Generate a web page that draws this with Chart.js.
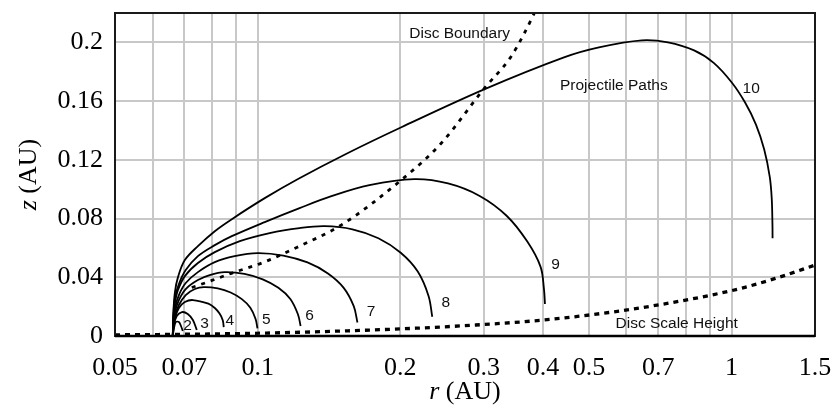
<!DOCTYPE html>
<html><head><meta charset="utf-8">
<script src="https://cdn.jsdelivr.net/npm/chart.js@4.4.0/dist/chart.umd.min.js"></script>
<style>html,body{margin:0;padding:0;background:#fff}</style>
</head><body>
<canvas id="c" width="834" height="415"></canvas>
<script>
// ---- axis ticks ----
const xGridValues = [0.05,0.06,0.07,0.08,0.09,0.1,0.2,0.3,0.4,0.5,0.6,0.7,0.8,0.9,1,1.5];
const xTickLabels = ['0.05','0.07','0.1','0.2','0.3','0.4','0.5','0.7','1','1.5'];
const yGridValues = [0,0.02,0.04,0.06,0.08,0.1,0.12,0.14,0.16,0.18,0.2,0.22];
const yTickLabels = ['0','0.04','0.08','0.12','0.16','0.2'];

// ---- projectile paths (r in AU, z in AU) ----
const path2R = [0.0662,0.0666,0.0672,0.0682,0.0689,0.0695];
const path2Z = [0,0.0054,0.0095,0.0095,0.0068,0.0034];
const path3R = [0.0662,0.0666,0.0675,0.0692,0.0712,0.0730,0.0744];
const path3Z = [0,0.0075,0.0136,0.0163,0.0150,0.0109,0.0041];
const path4R = [0.0662,0.0664,0.0669,0.0682,0.0702,0.0730,0.0787,0.0812,0.0831,0.0844,0.0848];
const path4Z = [0,0.0061,0.0122,0.0190,0.0231,0.0245,0.0220,0.0191,0.0153,0.0108,0.0061];
const path5R = [0.0662,0.0664,0.0669,0.0682,0.0705,0.0737,0.0770,0.0824,0.0877,0.0926,0.0965,0.0990,0.0999];
const path5Z = [0,0.0075,0.0136,0.0211,0.0279,0.0320,0.0333,0.0324,0.0296,0.0251,0.0193,0.0116,0.0052];
const path6R = [0.0662,0.0664,0.0669,0.0682,0.0705,0.0748,0.0792,0.0852,0.0938,0.1025,0.1106,0.1172,0.1216,0.1232];
const path6Z = [0,0.0095,0.0163,0.0245,0.0320,0.0381,0.0415,0.0435,0.0423,0.0386,0.0328,0.0252,0.0148,0.0068];
const path7R = [0.0662,0.0664,0.0669,0.0682,0.0705,0.0748,0.0812,0.0894,0.1000,0.1133,0.1274,0.1407,0.1519,0.1595,0.1624];
const path7Z = [0,0.0109,0.0190,0.0279,0.0361,0.0435,0.0503,0.0544,0.0565,0.0548,0.0501,0.0426,0.0328,0.0203,0.0092];
const path8R = [0.0662,0.0664,0.0669,0.0679,0.0702,0.0748,0.0812,0.0917,0.1060,0.1226,0.1384,0.1585,0.1798,0.2004,0.2177,0.2294,0.2336];
const path8Z = [0,0.0122,0.0224,0.0313,0.0408,0.0497,0.0571,0.0646,0.0701,0.0735,0.0748,0.0727,0.0666,0.0567,0.0439,0.0273,0.0131];
const path9R = [0.0662,0.0664,0.0669,0.0682,0.0705,0.0748,0.0812,0.0882,0.1035,0.1226,0.1431,0.1721,0.2140,0.2522,0.2941,0.3352,0.3707,0.3954,0.4019,0.4039];
const path9Z = [0,0.0136,0.0259,0.0354,0.0449,0.0544,0.0619,0.0680,0.0776,0.0871,0.0952,0.1027,0.1068,0.1039,0.0954,0.0819,0.0643,0.0471,0.0321,0.0218];
const path10R = [0.0662,0.0664,0.0669,0.0679,0.0702,0.0748,0.0812,0.0882,0.1035,0.1214,0.1547,0.2010,0.3005,0.4430,0.5249,0.6465,
  0.7341,0.8336,0.9169,1.0020,1.0680,1.1260,1.1720,1.2040,1.2157,1.2199,1.2205];
const path10Z = [0,0.0163,0.0299,0.0401,0.0517,0.0612,0.0714,0.0796,0.0939,0.1068,0.1245,0.1422,0.1680,0.1898,0.1966,0.2014,
  0.2000,0.1945,0.1860,0.1725,0.1590,0.1440,0.1270,0.1084,0.0935,0.0755,0.0665];

// ---- disc curves ----
const boundaryR = [0.0726,0.0777,0.0880,0.1035,0.1216,0.1500,0.2007,0.2437,0.3005,0.3421,0.3649,0.383,0.40];
const boundaryZ = [0.0330,0.0363,0.0427,0.0505,0.0607,0.0755,0.1061,0.1311,0.1685,0.1900,0.2059,0.2195,0.233];
const scaleHeightR = [0.05,0.0669,0.1043,0.1439,0.2158,0.2886,0.3986,0.5508,0.7022,0.8944,1.051,1.237,1.5];
const scaleHeightZ = [0.0008,0.0011,0.0020,0.0032,0.0053,0.0075,0.0108,0.0160,0.0212,0.0275,0.0326,0.0392,0.0483];

// ---- text labels ----
const pathLabels = ['2','3','4','5','6','7','8','9','10'];
const pathLabelR = [0.0711,0.0773,0.0873,0.1043,0.1287,0.1735,0.2495,0.4254,1.10];
const pathLabelZ = [0.0070,0.0086,0.0102,0.0114,0.0136,0.0165,0.0227,0.0483,0.1687];
const noteLabels = ['Disc Boundary','Projectile Paths','Disc Scale Height'];
const noteLabelR = [0.2089,0.4344,0.5690];
const noteLabelZ = [0.2061,0.1707,0.0086];

const zip = (R,Z) => R.map((r,i)=>({x:r,y:Z[i]}));
const paths = [[path2R,path2Z],[path3R,path3Z],[path4R,path4Z],[path5R,path5Z],[path6R,path6Z],
  [path7R,path7Z],[path8R,path8Z],[path9R,path9Z],[path10R,path10Z]];

const datasets = paths.map((p,i)=>({
  label:'path '+pathLabels[i], data:zip(p[0],p[1]), borderColor:'#000', borderWidth:1.8,
  pointRadius:0, tension:0.35, fill:false
}));
datasets.push({label:'Disc Boundary', data:zip(boundaryR,boundaryZ), borderColor:'#000', borderWidth:2.8,
  borderDash:[4,6], pointRadius:0, cubicInterpolationMode:'monotone', fill:false});
datasets.push({label:'Disc Scale Height', data:zip(scaleHeightR,scaleHeightZ), borderColor:'#000', borderWidth:3.3,
  borderDash:[5,5], pointRadius:0, cubicInterpolationMode:'monotone', fill:false});

function drawMixed(ctx, parts, cx, cy){
  let total = 0;
  parts.forEach(p=>{ctx.font=p.font; p.w=ctx.measureText(p.t).width; total+=p.w;});
  let x = cx - total/2;
  ctx.textAlign='left'; ctx.textBaseline='middle';
  parts.forEach(p=>{ctx.font=p.font; ctx.fillText(p.t,x,cy); x+=p.w;});
}

const annot = {
  id:'annot',
  afterDatasetsDraw(chart){
    const {ctx, chartArea:a, scales:{x,y}} = chart;
    ctx.save();
    ctx.strokeStyle='#1a1a1a'; ctx.lineWidth=2;
    ctx.strokeRect(a.left, a.top, a.right-a.left, a.bottom-a.top);
    ctx.lineWidth=2.5; ctx.strokeStyle='#000';
    ctx.beginPath(); ctx.moveTo(a.left,a.bottom); ctx.lineTo(a.right,a.bottom); ctx.stroke();
    ctx.fillStyle='#111';
    ctx.font='15.5px "Liberation Sans", Arial, sans-serif';
    ctx.textAlign='center'; ctx.textBaseline='middle';
    pathLabels.forEach((t,i)=>ctx.fillText(t, x.getPixelForValue(pathLabelR[i]), y.getPixelForValue(pathLabelZ[i])));
    ctx.textAlign='left';
    noteLabels.forEach((t,i)=>ctx.fillText(t, x.getPixelForValue(noteLabelR[i]), y.getPixelForValue(noteLabelZ[i])));
    ctx.fillStyle='#000';
    const it='italic 26px "Liberation Serif", "Times New Roman", serif';
    const nf='26px "Liberation Serif", "Times New Roman", serif';
    drawMixed(ctx,[{t:'r',font:it},{t:' (AU)',font:nf}], (a.left+a.right)/2, a.bottom+56);
    ctx.save();
    ctx.translate(a.left-86, (a.top+a.bottom)/2);
    ctx.rotate(-Math.PI/2);
    drawMixed(ctx,[{t:'z',font:it},{t:' (AU)',font:nf}], 0, 0);
    ctx.restore();
    ctx.restore();
  }
};

function noPad(s){ s.paddingTop=0; s.paddingBottom=0; s.paddingLeft=0; s.paddingRight=0; }
const tickFont = {family:'"Liberation Serif", "Times New Roman", serif', size:26};
new Chart(document.getElementById('c'), {
  type:'line',
  data:{datasets},
  options:{
    responsive:false, animation:false,
    layout:{padding:{top:13,right:19,left:0,bottom:0}},
    plugins:{legend:{display:false}, tooltip:{enabled:false}, title:{display:false}},
    scales:{
      x:{type:'logarithmic', min:0.05, max:1.5,
        afterBuildTicks:s=>{s.ticks=xGridValues.map(v=>({value:v}));},
        afterFit:s=>{s.height=79; noPad(s);},
        grid:{color:'#c8c8c8', lineWidth:2, drawTicks:false},
        border:{display:false},
        ticks:{autoSkip:false, maxRotation:0, minRotation:0, padding:17, color:'#000', font:tickFont,
          callback:(v)=>{const m=xTickLabels.find(l=>Math.abs(parseFloat(l)-v)<1e-9); return m===undefined?'':m;}}
      },
      y:{type:'linear', min:0, max:0.22,
        afterBuildTicks:s=>{s.ticks=yGridValues.map(v=>({value:v}));},
        afterFit:s=>{s.width=115; noPad(s);},
        grid:{color:'#c8c8c8', lineWidth:2, drawTicks:false},
        border:{display:false},
        ticks:{padding:12, color:'#000', font:tickFont,
          callback:(v)=>{const m=yTickLabels.find(l=>Math.abs(parseFloat(l)-v)<1e-9); return m===undefined?'':m;}}
      }
    }
  },
  plugins:[annot]
});
</script>
</body></html>
